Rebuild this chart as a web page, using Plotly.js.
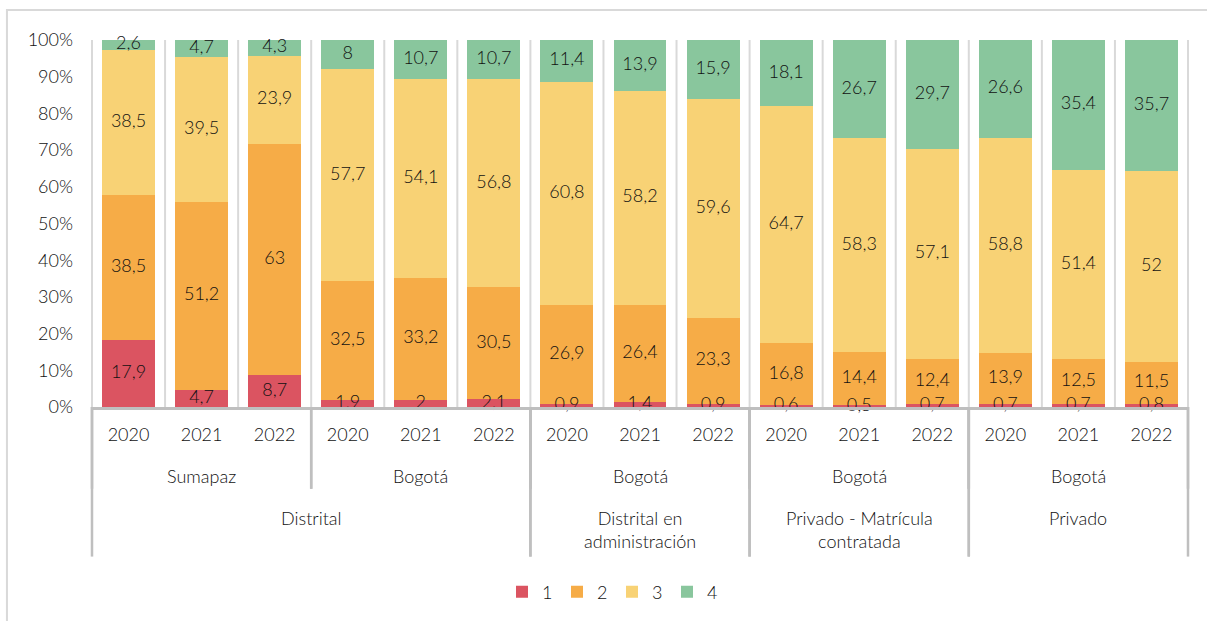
<!DOCTYPE html>
<html>
<head>
<meta charset="utf-8">
<script src="https://cdn.plot.ly/plotly-3.0.1.min.js"></script>
<style>html,body{margin:0;padding:0;background:#fff;}#chart{width:1207px;height:621px;}</style>
</head>
<body>
<div id="chart"></div>
<script>
// ---- data ----
var years = ['2020','2021','2022','2020','2021','2022','2020','2021','2022','2020','2021','2022','2020','2021','2022'];
var level2Labels = ['Sumapaz','Bogotá','Bogotá','Bogotá','Bogotá'];
var level2Spans = [3,3,3,3,3];
var level3Labels = ['Distrital','Distrital en<br>administración','Privado - Matrícula<br>contratada','Privado'];
var level3Spans = [6,3,3,3];
var seriesNames = ['1','2','3','4'];
var s1 = [17.9, 4.7, 8.7, 1.9, 2, 2.1, 0.9, 1.4, 0.9, 0.6, 0.5, 0.7, 0.7, 0.7, 0.8];
var s2 = [38.5, 51.2, 63, 32.5, 33.2, 30.5, 26.9, 26.4, 23.3, 16.8, 14.4, 12.4, 13.9, 12.5, 11.5];
var s3 = [38.5, 39.5, 23.9, 57.7, 54.1, 56.8, 60.8, 58.2, 59.6, 64.7, 58.3, 57.1, 58.8, 51.4, 52];
var s4 = [2.6, 4.7, 4.3, 8, 10.7, 10.7, 11.4, 13.9, 15.9, 18.1, 26.7, 29.7, 26.6, 35.4, 35.7];
var yTicks = [0,10,20,30,40,50,60,70,80,90,100];

// ---- style ----
var colors = ['#DB5461','#F6AC47','#F8D275','#89C69D'];
var FONT = 'Lato, "Open Sans", sans-serif';
var TXT = '#111111';
var FS = 18;
var FW = 300;

var n = years.length;
var series = [s1, s2, s3, s4];
var xIdx = years.map(function(_, i){ return i; });
var fmt = function(v){ return String(v).replace('.', ','); };
var totals = xIdx.map(function(i){ return series.reduce(function(a, s){ return a + s[i]; }, 0); });

var traces = series.map(function(vals, k){
  return {
    type: 'bar',
    name: seriesNames[k],
    x: xIdx,
    y: vals,
    marker: {color: colors[k], line: {width: 0}},
    hoverinfo: 'name+y'
  };
});

// data labels: centered in each (normalized) segment, drawn above all bars
var lx = [], ly = [], lt = [];
xIdx.forEach(function(i){
  var base = 0;
  series.forEach(function(s){
    var h = s[i] / totals[i] * 100;
    lx.push(i); ly.push(base + h / 2); lt.push(fmt(s[i]));
    base += h;
  });
});
traces.push({
  type: 'scatter', mode: 'text', x: lx, y: ly, text: lt, textposition: 'middle center',
  textfont: {family: FONT, size: FS, color: TXT, weight: FW},
  cliponaxis: false, showlegend: false, hoverinfo: 'skip'
});

function px2py(px){ return (408 - px) / 368; }
function bnd2paper(b){ return b / n; }
function ctr2paper(c){ return (c + 0.5) / n; }

var shapes = [];
// outer frame
shapes.push({type:'rect', xref:'paper', yref:'paper', x0:-0.0776, x1:1.2, y0:-0.7, y1:px2py(10),
  line:{color:'#d9d9d9', width:2}, fillcolor:'rgba(0,0,0,0)', layer:'below'});
// vertical category gridlines
for (var i = 0; i <= n; i++) {
  shapes.push({type:'line', xref:'paper', yref:'paper', x0:bnd2paper(i), x1:bnd2paper(i), y0:0, y1:1,
    line:{color:'#d9d9d9', width:2}, layer:'below'});
}
var annotations = [];
// level 2 separators and labels
var pos = 0;
level2Labels.forEach(function(lbl, k){
  var start = pos, end = pos + level2Spans[k];
  annotations.push({xref:'paper', yref:'paper', x: ctr2paper((start + end - 1) / 2), y: px2py(477),
    text: lbl, showarrow:false, xanchor:'center', yanchor:'middle', font:{family:FONT, size:FS, color:TXT, weight:FW}});
  [start, end].forEach(function(b){
    shapes.push({type:'line', xref:'paper', yref:'paper', x0:bnd2paper(b), x1:bnd2paper(b), y0:0, y1:px2py(490),
      line:{color:'#bfbfbf', width:2.5}});
  });
  pos = end;
});
// level 3 separators and labels
pos = 0;
level3Labels.forEach(function(lbl, k){
  var start = pos, end = pos + level3Spans[k];
  annotations.push({xref:'paper', yref:'paper', x: ctr2paper((start + end - 1) / 2), y: px2py(506),
    text: lbl, showarrow:false, xanchor:'center', yanchor:'top', font:{family:FONT, size:FS, color:TXT, weight:FW}});
  [start, end].forEach(function(b){
    shapes.push({type:'line', xref:'paper', yref:'paper', x0:bnd2paper(b), x1:bnd2paper(b), y0:0, y1:px2py(558),
      line:{color:'#bfbfbf', width:2.5}});
  });
  pos = end;
});

var layout = {
  width: 1207, height: 621,
  margin: {l:92, r:19, t:40, b:213, pad:0},
  paper_bgcolor: '#ffffff', plot_bgcolor: 'rgba(0,0,0,0)',
  barmode: 'stack', barnorm: 'percent', bargap: 0.275,
  font: {family: FONT, size: FS, color: TXT, weight: FW},
  showlegend: true,
  legend: {orientation:'h', x:(612-92)/1096, xanchor:'center', y:px2py(592), yanchor:'middle',
    font:{family:FONT, size:FS, color:TXT, weight:FW}, traceorder:'normal', entrywidth:10, itemwidth:30, bgcolor:'rgba(0,0,0,0)'},
  xaxis: {
    range: [-0.5, n - 0.5], tickmode:'array', tickvals: xIdx, ticktext: years,
    showgrid:false, zeroline:false, showline:true, linecolor:'#bfbfbf', linewidth:2.5,
    ticks:'', ticklabelstandoff: 10, tickfont:{family:FONT, size:FS, color:TXT, weight:FW}, fixedrange:true
  },
  yaxis: {
    range: [0, 100], tickmode:'array', tickvals: yTicks, ticktext: yTicks.map(function(v){return v + '%';}),
    showgrid:false, zeroline:false, showline:false, ticks:'', ticklabelstandoff: 18,
    tickfont:{family:FONT, size:FS, color:TXT, weight:FW}, fixedrange:true
  },
  shapes: shapes,
  annotations: annotations
};

Plotly.newPlot('chart', traces, layout, {displayModeBar:false, staticPlot:true});
</script>
</body>
</html>
